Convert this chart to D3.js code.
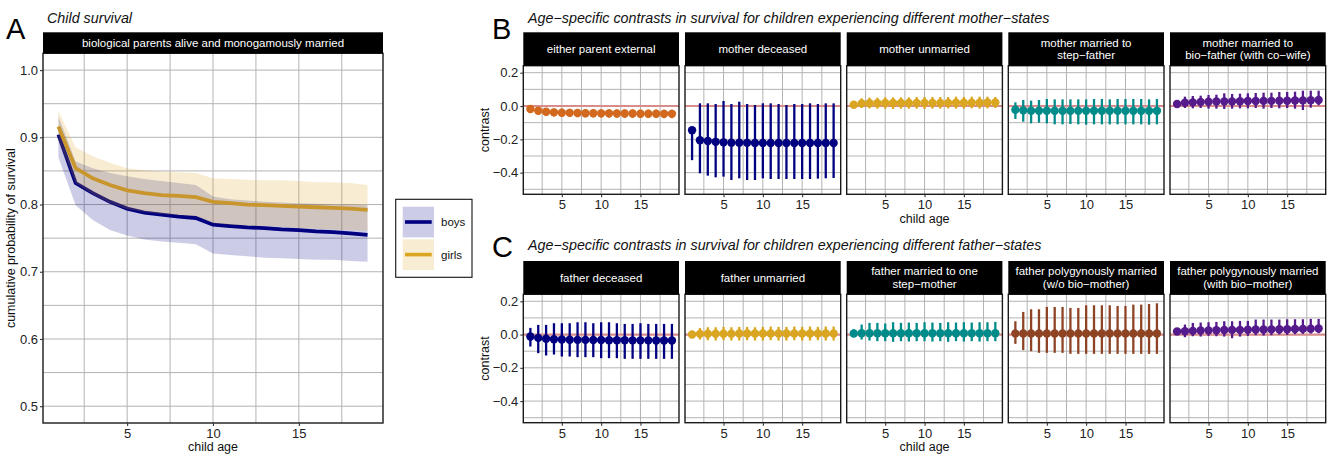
<!DOCTYPE html>
<html>
<head>
<meta charset="utf-8">
<script src="https://cdn.jsdelivr.net/npm/d3@7"></script>
<style>
  html, body { margin: 0; padding: 0; background: #fff; }
  text { font-family: "Liberation Sans", Arial, Helvetica, sans-serif; }
</style>
</head>
<body>
<script>
// ---------------- DATA ----------------
const ages = [1,2,3,4,5,6,7,8,9,10,11,12,13,14,15,16,17,18,19];

// Panel A: cumulative probability of survival
const boysMean  = [0.904,0.832,0.817,0.804,0.794,0.788,0.785,0.782,0.780,0.770,0.768,0.766,0.765,0.763,0.762,0.760,0.759,0.757,0.755];
const boysLo    = [0.870,0.799,0.777,0.762,0.754,0.748,0.745,0.743,0.741,0.727,0.725,0.723,0.721,0.720,0.719,0.718,0.718,0.716,0.715];
const boysHi    = [0.931,0.864,0.854,0.847,0.842,0.838,0.835,0.832,0.829,0.812,0.808,0.806,0.804,0.803,0.802,0.801,0.800,0.800,0.799];
const girlsMean = [0.916,0.854,0.839,0.829,0.821,0.817,0.814,0.813,0.811,0.804,0.802,0.800,0.799,0.798,0.797,0.796,0.795,0.794,0.792];
const girlsLo   = [0.895,0.832,0.815,0.802,0.793,0.789,0.786,0.784,0.783,0.772,0.770,0.769,0.768,0.767,0.765,0.764,0.763,0.762,0.761];
const girlsHi   = [0.939,0.885,0.872,0.862,0.854,0.851,0.849,0.848,0.847,0.839,0.838,0.837,0.836,0.836,0.835,0.833,0.833,0.832,0.829];

const yTicksA = [0.5,0.6,0.7,0.8,0.9,1.0];
const xTicks  = [5,10,15];
const yTicksBC = [-0.4,-0.2,0.0,0.2];

// Panel B: mother-states
const motherLabels = [["either parent external"],["mother deceased"],["mother unmarried"],["mother married to","step\u2212father"],["mother married to","bio\u2212father (with co\u2212wife)"]];
const extMean = [-0.018,-0.028,-0.034,-0.038,-0.040,-0.041,-0.042,-0.043,-0.043,-0.044,-0.044,-0.045,-0.045,-0.045,-0.046,-0.046,-0.046,-0.047,-0.047];
const extLo   = [-0.026,-0.050,-0.058,-0.062,-0.064,-0.066,-0.067,-0.068,-0.068,-0.069,-0.070,-0.070,-0.071,-0.071,-0.072,-0.072,-0.072,-0.073,-0.073];
const extHi   = [-0.010,-0.008,-0.012,-0.015,-0.016,-0.017,-0.018,-0.019,-0.019,-0.020,-0.020,-0.021,-0.021,-0.021,-0.022,-0.022,-0.022,-0.022,-0.022];
const decMean = [-0.145,-0.205,-0.210,-0.215,-0.218,-0.220,-0.220,-0.221,-0.222,-0.222,-0.222,-0.222,-0.222,-0.222,-0.222,-0.222,-0.222,-0.222,-0.222];
const decLo   = [-0.325,-0.404,-0.418,-0.428,-0.424,-0.444,-0.434,-0.444,-0.444,-0.434,-0.438,-0.438,-0.438,-0.438,-0.438,-0.438,-0.436,-0.434,-0.432];
const decHi   = [-0.125,0.016,0.016,0.012,0.030,0.012,0.026,0.012,0.006,0.016,0.016,0.012,0.006,0.012,0.012,0.016,0.012,0.016,0.016];
const umMean  = [0.008,0.016,0.017,0.017,0.018,0.018,0.018,0.018,0.019,0.019,0.019,0.019,0.019,0.020,0.020,0.020,0.020,0.021,0.021];
const umLo    = [0.000,-0.012,-0.014,-0.016,-0.016,-0.018,-0.016,-0.016,-0.016,-0.018,-0.016,-0.016,-0.014,-0.016,-0.016,-0.014,-0.016,-0.014,-0.012];
const umHi    = [0.016,0.046,0.050,0.050,0.052,0.052,0.052,0.052,0.054,0.054,0.054,0.054,0.054,0.056,0.054,0.056,0.056,0.056,0.054];
const sfMean  = [-0.022,-0.026,-0.028,-0.028,-0.028,-0.029,-0.029,-0.029,-0.029,-0.029,-0.029,-0.029,-0.029,-0.029,-0.029,-0.029,-0.029,-0.029,-0.029];
const sfLo    = [-0.078,-0.094,-0.104,-0.100,-0.104,-0.110,-0.110,-0.108,-0.110,-0.112,-0.110,-0.110,-0.110,-0.110,-0.110,-0.110,-0.110,-0.112,-0.110];
const sfHi    = [0.022,0.036,0.032,0.036,0.042,0.040,0.040,0.040,0.040,0.040,0.042,0.042,0.040,0.042,0.042,0.042,0.042,0.040,0.042];
const cwMean  = [0.012,0.020,0.022,0.024,0.026,0.027,0.028,0.028,0.029,0.030,0.030,0.031,0.031,0.032,0.032,0.033,0.034,0.035,0.036];
const cwLo    = [0.002,-0.012,-0.014,-0.012,-0.016,-0.016,-0.018,-0.016,-0.014,-0.014,-0.012,-0.016,-0.012,-0.014,-0.012,-0.016,-0.024,-0.010,0.004];
const cwHi    = [0.022,0.056,0.060,0.062,0.066,0.068,0.076,0.072,0.074,0.076,0.078,0.080,0.080,0.084,0.084,0.086,0.092,0.092,0.092];

// Panel C: father-states
const fatherLabels = [["father deceased"],["father unmarried"],["father married to one","step\u2212mother"],["father polygynously married","(w/o bio\u2212mother)"],["father polygynously married","(with bio\u2212mother)"]];
const fdMean = [-0.012,-0.020,-0.025,-0.028,-0.030,-0.031,-0.032,-0.032,-0.033,-0.033,-0.034,-0.034,-0.034,-0.035,-0.035,-0.035,-0.036,-0.036,-0.036];
const fdLo   = [-0.072,-0.112,-0.126,-0.120,-0.132,-0.132,-0.136,-0.136,-0.136,-0.142,-0.142,-0.142,-0.146,-0.146,-0.146,-0.146,-0.146,-0.146,-0.146];
const fdHi   = [0.040,0.058,0.058,0.068,0.068,0.068,0.074,0.074,0.068,0.074,0.074,0.068,0.064,0.064,0.068,0.064,0.064,0.064,0.064];
const fuMean = [0.000,0.004,0.005,0.005,0.005,0.005,0.006,0.006,0.006,0.006,0.006,0.006,0.006,0.006,0.006,0.006,0.006,0.006,0.006];
const fuLo   = [-0.012,-0.030,-0.034,-0.036,-0.034,-0.036,-0.036,-0.034,-0.036,-0.036,-0.034,-0.036,-0.036,-0.034,-0.036,-0.036,-0.034,-0.036,-0.036];
const fuHi   = [0.012,0.040,0.044,0.044,0.046,0.044,0.046,0.046,0.044,0.046,0.048,0.046,0.046,0.048,0.046,0.048,0.046,0.048,0.048];
const smMean = [0.006,0.008,0.008,0.008,0.008,0.008,0.008,0.008,0.008,0.008,0.008,0.008,0.008,0.008,0.008,0.008,0.008,0.008,0.008];
const smLo   = [-0.010,-0.030,-0.036,-0.040,-0.040,-0.044,-0.040,-0.042,-0.040,-0.040,-0.042,-0.040,-0.044,-0.040,-0.042,-0.040,-0.042,-0.040,-0.040];
const smHi   = [0.030,0.060,0.070,0.070,0.066,0.074,0.070,0.072,0.070,0.074,0.072,0.070,0.074,0.072,0.074,0.072,0.074,0.074,0.076];
const pwMean = [0.006,0.006,0.006,0.006,0.006,0.006,0.006,0.006,0.006,0.006,0.006,0.006,0.006,0.006,0.006,0.006,0.006,0.006,0.006];
const pwLo   = [-0.056,-0.094,-0.100,-0.110,-0.110,-0.110,-0.110,-0.116,-0.116,-0.116,-0.116,-0.116,-0.116,-0.116,-0.116,-0.116,-0.116,-0.116,-0.116];
const pwHi   = [0.080,0.136,0.152,0.152,0.166,0.166,0.166,0.160,0.160,0.176,0.176,0.176,0.176,0.172,0.172,0.180,0.180,0.184,0.188];
const pbMean = [0.018,0.020,0.022,0.024,0.025,0.026,0.027,0.028,0.028,0.029,0.030,0.030,0.031,0.032,0.032,0.033,0.034,0.035,0.036];
const pbLo   = [0.008,-0.016,-0.010,-0.012,-0.008,-0.010,-0.012,-0.022,-0.012,-0.008,-0.004,-0.006,-0.004,0.000,-0.002,0.002,0.004,0.006,0.008];
const pbHi   = [0.028,0.060,0.070,0.072,0.074,0.076,0.080,0.080,0.082,0.082,0.090,0.090,0.090,0.090,0.092,0.092,0.092,0.094,0.094];

// ---------------- STYLE / LAYOUT ----------------
const COL = { navy:"#000080", gold:"#DAA520", choc:"#D2691E", cyan:"#008B8B", purple:"#551A8B", sienna:"#8E4424" };
const GRID = "#b3b3b3";
const W = 1334, H = 456;
const svg = d3.select("body").append("svg").attr("width", W).attr("height", H);

const xDomain = [0.1, 19.9];
const xMinor = [2.5, 7.5, 12.5, 17.5];

function fmt(v){ const s = d3.format(".1f")(Math.abs(v)); return (v < -1e-9 ? "\u2212" : "") + s; }

function drawFrame(g, x, y, left, right, top, bottom, yMajor, yMinor) {
  const grid = g.append("g");
  const ys = yMajor.concat(yMinor).filter(v => y(v) >= top && y(v) <= bottom);
  grid.selectAll("line.h").data(ys).join("line")
    .attr("x1", left).attr("x2", right).attr("y1", d => y(d)).attr("y2", d => y(d))
    .attr("stroke", GRID).attr("stroke-width", 1);
  grid.selectAll("line.v").data(xTicks.concat(xMinor)).join("line")
    .attr("y1", top).attr("y2", bottom).attr("x1", d => x(d)).attr("x2", d => x(d))
    .attr("stroke", GRID).attr("stroke-width", 1);
}
function drawBorderAxes(g, x, y, left, right, top, bottom, yMajor, showY, showX) {
  g.append("rect").attr("x", left).attr("y", top).attr("width", right-left).attr("height", bottom-top)
    .attr("fill", "none").attr("stroke", "#1a1a1a").attr("stroke-width", 1.4);
  if (showX) {
    const ax = d3.axisBottom(x).tickValues(xTicks).tickSize(3).tickPadding(2).tickFormat(d3.format("d"));
    const a = g.append("g").attr("transform", `translate(0,${bottom})`).call(ax);
    a.select(".domain").remove();
    a.selectAll("line").attr("stroke", "#333").attr("stroke-width", 1.1);
    a.selectAll("text").attr("font-size", 13).attr("fill", "#222").attr("dy", "0.78em");
  }
  if (showY) {
    const ay = d3.axisLeft(y).tickValues(yMajor).tickSize(3).tickPadding(2).tickFormat(fmt);
    const a = g.append("g").attr("transform", `translate(${left},0)`).call(ay);
    a.select(".domain").remove();
    a.selectAll("line").attr("stroke", "#333").attr("stroke-width", 1.1);
    a.selectAll("text").attr("font-size", 13).attr("fill", "#222");
  }
}
function drawStrip(g, left, right, top, bottom, lines) {
  g.append("rect").attr("x", left).attr("y", top).attr("width", right-left).attr("height", bottom-top).attr("fill", "#000");
  const cy = (top+bottom)/2, lh = 12.6;
  lines.forEach((t, i) => {
    g.append("text").attr("x", (left+right)/2).attr("y", cy + (i - (lines.length-1)/2)*lh)
      .attr("dy", "0.36em").attr("text-anchor", "middle").attr("fill", "#fff").attr("font-size", 11.5).text(t);
  });
}

// ---------------- PANEL A ----------------
{
  const left = 43, right = 383, sTop = 32.3, top = 53.3, bottom = 423;
  const g = svg.append("g");
  const x = d3.scaleLinear().domain(xDomain).range([left, right]);
  const y = d3.scaleLinear().domain([0.475, 1.025]).range([bottom, top]);
  drawFrame(g, x, y, left, right, top, bottom, yTicksA, [0.55,0.65,0.75,0.85,0.95]);
  const boys = ages.map((a,i)=>({a, m:boysMean[i], lo:boysLo[i], hi:boysHi[i]}));
  const girls = ages.map((a,i)=>({a, m:girlsMean[i], lo:girlsLo[i], hi:girlsHi[i]}));
  const area = d3.area().x(d=>x(d.a)).y0(d=>y(d.lo)).y1(d=>y(d.hi));
  const line = d3.line().x(d=>x(d.a)).y(d=>y(d.m));
  g.append("path").datum(boys).attr("d", area).attr("fill", COL.navy).attr("fill-opacity", 0.2);
  g.append("path").datum(boys).attr("d", line).attr("fill","none").attr("stroke", COL.navy).attr("stroke-width", 3.8);
  g.append("path").datum(girls).attr("d", area).attr("fill", COL.gold).attr("fill-opacity", 0.2);
  g.append("path").datum(girls).attr("d", line).attr("fill","none").attr("stroke", "#C8962C").attr("stroke-width", 3.8);
  drawBorderAxes(g, x, y, left, right, top, bottom, yTicksA, true, true);
  drawStrip(g, left, right, sTop, top, ["biological parents alive and monogamously married"]);
  svg.append("text").attr("x", 47).attr("y", 22.5).attr("font-size", 14.3).attr("font-style", "italic").attr("fill","#111").text("Child survival");
  svg.append("text").attr("x", 6).attr("y", 39).attr("font-size", 29).attr("fill","#000").text("A");
  svg.append("text").attr("x", (left+right)/2).attr("y", 451).attr("text-anchor","middle").attr("font-size", 12.5).attr("fill","#111").text("child age");
  svg.append("text").attr("transform", `translate(14.5,${(top+bottom)/2}) rotate(-90)`).attr("text-anchor","middle").attr("font-size", 12.5).attr("fill","#111").text("cumulative probability of survival");

  // legend
  const lg = svg.append("g");
  lg.append("rect").attr("x", 395.7).attr("y", 199.3).attr("width", 76.3).attr("height", 78).attr("fill","#fff").attr("stroke","#111").attr("stroke-width",1.1);
  const keys = [{lab:"boys", c:COL.navy, y0:206.7}, {lab:"girls", c:COL.gold, y0:239.3}];
  keys.forEach(k => {
    lg.append("rect").attr("x", 402.7).attr("y", k.y0).attr("width", 31.3).attr("height", 30.7).attr("fill", k.c).attr("fill-opacity", 0.2);
    lg.append("line").attr("x1", 405).attr("x2", 431.7).attr("y1", k.y0+15.3).attr("y2", k.y0+15.3).attr("stroke", k.c).attr("stroke-width", 3.6);
    lg.append("text").attr("x", 441).attr("y", k.y0+15.3).attr("dy","0.36em").attr("font-size", 11.5).attr("fill","#111").text(k.lab);
  });
}

// ---------------- PANELS B / C ----------------
const facetLefts = [523.3, 685, 846.7, 1008.3, 1170];
const facetW = 155.7;
function drawRow(rowTop, top, bottom, labels, series, letter, letterY, title, titleY, xTitleY) {
  const y = d3.scaleLinear().domain([-0.53, 0.242]).range([bottom, top]);
  series.forEach((s, k) => {
    const left = facetLefts[k], right = left + facetW;
    const x = d3.scaleLinear().domain(xDomain).range([left, right]);
    const g = svg.append("g");
    drawFrame(g, x, y, left, right, top, bottom, yTicksBC, [-0.5,-0.3,-0.1,0.1]);
    g.append("line").attr("x1", left).attr("x2", right).attr("y1", y(0)).attr("y2", y(0))
      .attr("stroke", "#D98C8C").attr("stroke-width", 2.2);
    const pts = ages.map((a,i)=>({a, m:s.m[i], lo:s.lo[i], hi:s.hi[i]}));
    g.selectAll("line.eb").data(pts).join("line")
      .attr("x1", d=>x(d.a)).attr("x2", d=>x(d.a)).attr("y1", d=>y(d.lo)).attr("y2", d=>y(d.hi))
      .attr("stroke", s.c).attr("stroke-width", 2.3);
    g.selectAll("circle").data(pts).join("circle")
      .attr("cx", d=>x(d.a)).attr("cy", d=>y(d.m)).attr("r", 4.2).attr("fill", s.c);
    drawBorderAxes(g, x, y, left, right, top, bottom, yTicksBC, k === 0, true);
    drawStrip(g, left, right, rowTop, top, labels[k]);
  });
  svg.append("text").attr("x", 492).attr("y", letterY).attr("font-size", 29).attr("fill","#000").text(letter);
  svg.append("text").attr("x", 528).attr("y", titleY).attr("font-size", 14.3).attr("font-style","italic").attr("fill","#111").text(title);
  svg.append("text").attr("x", facetLefts[2] + facetW/2).attr("y", xTitleY).attr("text-anchor","middle").attr("font-size", 12.5).attr("fill","#111").text("child age");
  svg.append("text").attr("transform", `translate(489,${(top+bottom)/2}) rotate(-90)`).attr("text-anchor","middle").attr("font-size", 12.5).attr("fill","#111").text("contrast");
}

drawRow(32.3, 65.7, 194.3, motherLabels, [
  {m:extMean, lo:extLo, hi:extHi, c:COL.choc},
  {m:decMean, lo:decLo, hi:decHi, c:COL.navy},
  {m:umMean, lo:umLo, hi:umHi, c:COL.gold},
  {m:sfMean, lo:sfLo, hi:sfHi, c:COL.cyan},
  {m:cwMean, lo:cwLo, hi:cwHi, c:COL.purple}
], "B", 39, "Age\u2212specific contrasts in survival for children experiencing different mother\u2212states", 22.7, 223);

drawRow(261, 294.3, 422.7, fatherLabels, [
  {m:fdMean, lo:fdLo, hi:fdHi, c:COL.navy},
  {m:fuMean, lo:fuLo, hi:fuHi, c:COL.gold},
  {m:smMean, lo:smLo, hi:smHi, c:COL.cyan},
  {m:pwMean, lo:pwLo, hi:pwHi, c:COL.sienna},
  {m:pbMean, lo:pbLo, hi:pbHi, c:COL.purple}
], "C", 257, "Age\u2212specific contrasts in survival for children experiencing different father\u2212states", 250, 451);
</script>
</body>
</html>
